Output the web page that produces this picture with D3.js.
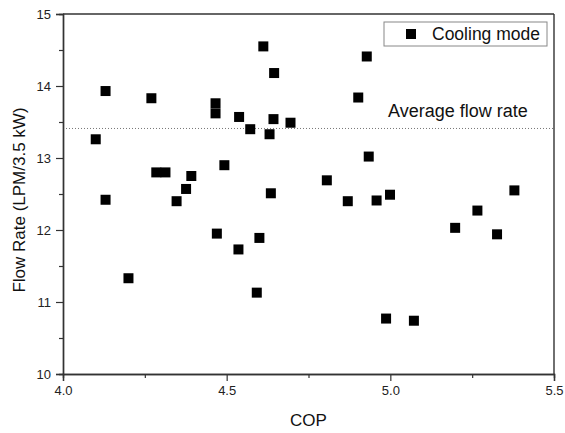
<!DOCTYPE html>
<html>
<head>
<meta charset="utf-8">
<script src="https://cdn.jsdelivr.net/npm/d3@7"></script>
<style>
  body { margin: 0; background: #fff; }
  svg { display: block; font-family: "Liberation Sans", Arial, sans-serif; }
</style>
</head>
<body>
<svg id="chart"></svg>
<script>
const width = 565;
const height = 433;

// COP / flow rate pairs
const cop = [4.10, 4.13, 4.13, 4.20, 4.27, 4.285, 4.313, 4.347, 4.376, 4.392,
  4.466, 4.466, 4.47, 4.493, 4.536, 4.538, 4.572, 4.592, 4.60, 4.612,
  4.631, 4.635, 4.643, 4.645, 4.695, 4.806, 4.87, 4.902, 4.928, 4.934,
  4.958, 4.987, 4.999, 5.072, 5.198, 5.266, 5.326, 5.379];
const flowRate = [13.26, 13.93, 12.42, 11.33, 13.83, 12.80, 12.80, 12.40, 12.57, 12.75,
  13.76, 13.62, 11.95, 12.90, 11.73, 13.57, 13.40, 11.13, 11.89, 14.55,
  13.33, 12.51, 13.54, 14.18, 13.49, 12.69, 12.40, 13.84, 14.41, 13.02,
  12.41, 10.77, 12.49, 10.74, 12.03, 12.27, 11.94, 12.55];
const averageFlow = 13.41;
const xTicks = [4.0, 4.5, 5.0, 5.5];
const xMinor = [4.25, 4.75, 5.25];
const yTicks = [10, 11, 12, 13, 14, 15];
const yMinor = [10.5, 11.5, 12.5, 13.5, 14.5];

const points = cop.map((c, i) => ({x: c, y: flowRate[i]}));

const margin = {top: 14, right: 11, bottom: 59, left: 63};

const svg = d3.select("#chart")
    .attr("width", width)
    .attr("height", height);

const x = d3.scaleLinear().domain([4.0, 5.5]).range([margin.left, width - margin.right]);
const y = d3.scaleLinear().domain([10, 15]).range([height - margin.bottom, margin.top]);

const axisColor = "#333";

// average line (behind the markers)
svg.append("line")
    .attr("x1", x(4.0)).attr("x2", x(5.5))
    .attr("y1", y(averageFlow)).attr("y2", y(averageFlow))
    .attr("stroke", "#777")
    .attr("stroke-width", 1)
    .attr("stroke-dasharray", "1,2");

svg.append("text")
    .attr("x", 388)
    .attr("y", y(averageFlow) - 11)
    .attr("font-size", 18)
    .attr("fill", "#111")
    .text("Average flow rate");

// axes
svg.append("g")
    .attr("transform", `translate(0,${y(10)})`)
    .call(d3.axisBottom(x).tickValues(xTicks).tickFormat(d3.format(".1f")).tickSize(7).tickPadding(5));
svg.append("g")
    .attr("transform", `translate(0,${y(10)})`)
    .call(d3.axisBottom(x).tickValues(xMinor).tickFormat("").tickSize(4));

svg.append("g")
    .attr("transform", `translate(${x(4.0)},0)`)
    .call(d3.axisLeft(y).tickValues(yTicks).tickFormat(d3.format("d")).tickSize(7).tickPadding(5));
svg.append("g")
    .attr("transform", `translate(${x(4.0)},0)`)
    .call(d3.axisLeft(y).tickValues(yMinor).tickFormat("").tickSize(4));

svg.selectAll(".domain").attr("stroke", axisColor).attr("stroke-width", 1.4);
svg.selectAll(".tick line").attr("stroke", axisColor).attr("stroke-width", 1.2);
svg.selectAll(".tick text").attr("font-size", 13).attr("fill", "#222")
    .attr("font-family", "'Liberation Sans', Arial, sans-serif");

// top and right frame
svg.append("line")
    .attr("x1", x(4.0)).attr("x2", x(5.5))
    .attr("y1", y(15)).attr("y2", y(15))
    .attr("stroke", axisColor).attr("stroke-width", 1.4);
svg.append("line")
    .attr("x1", x(5.5)).attr("x2", x(5.5))
    .attr("y1", y(15)).attr("y2", y(10))
    .attr("stroke", axisColor).attr("stroke-width", 1.4);

// axis titles
svg.append("text")
    .attr("x", (x(4.0) + x(5.5)) / 2)
    .attr("y", 426)
    .attr("text-anchor", "middle")
    .attr("font-size", 17)
    .attr("fill", "#111")
    .text("COP");

svg.append("text")
    .attr("transform", `translate(25,${(y(10) + y(15)) / 2 + 6}) rotate(-90)`)
    .attr("text-anchor", "middle")
    .attr("font-size", 17)
    .attr("fill", "#111")
    .text("Flow Rate (LPM/3.5 kW)");

// markers
const size = 10;
svg.append("g")
    .selectAll("rect")
    .data(points)
    .enter().append("rect")
    .attr("x", d => x(d.x) - size / 2)
    .attr("y", d => y(d.y) - size / 2)
    .attr("width", size)
    .attr("height", size)
    .attr("fill", "#000");

// legend
const legend = svg.append("g").attr("transform", "translate(384,22)");
legend.append("rect")
    .attr("width", 163).attr("height", 24)
    .attr("fill", "#fff")
    .attr("stroke", "#888")
    .attr("stroke-width", 1);
legend.append("rect")
    .attr("x", 27 - size / 2).attr("y", 12 - size / 2)
    .attr("width", size).attr("height", size)
    .attr("fill", "#000");
legend.append("text")
    .attr("x", 48)
    .attr("y", 18)
    .attr("font-size", 17.5)
    .attr("fill", "#111")
    .text("Cooling mode");
</script>
</body>
</html>
